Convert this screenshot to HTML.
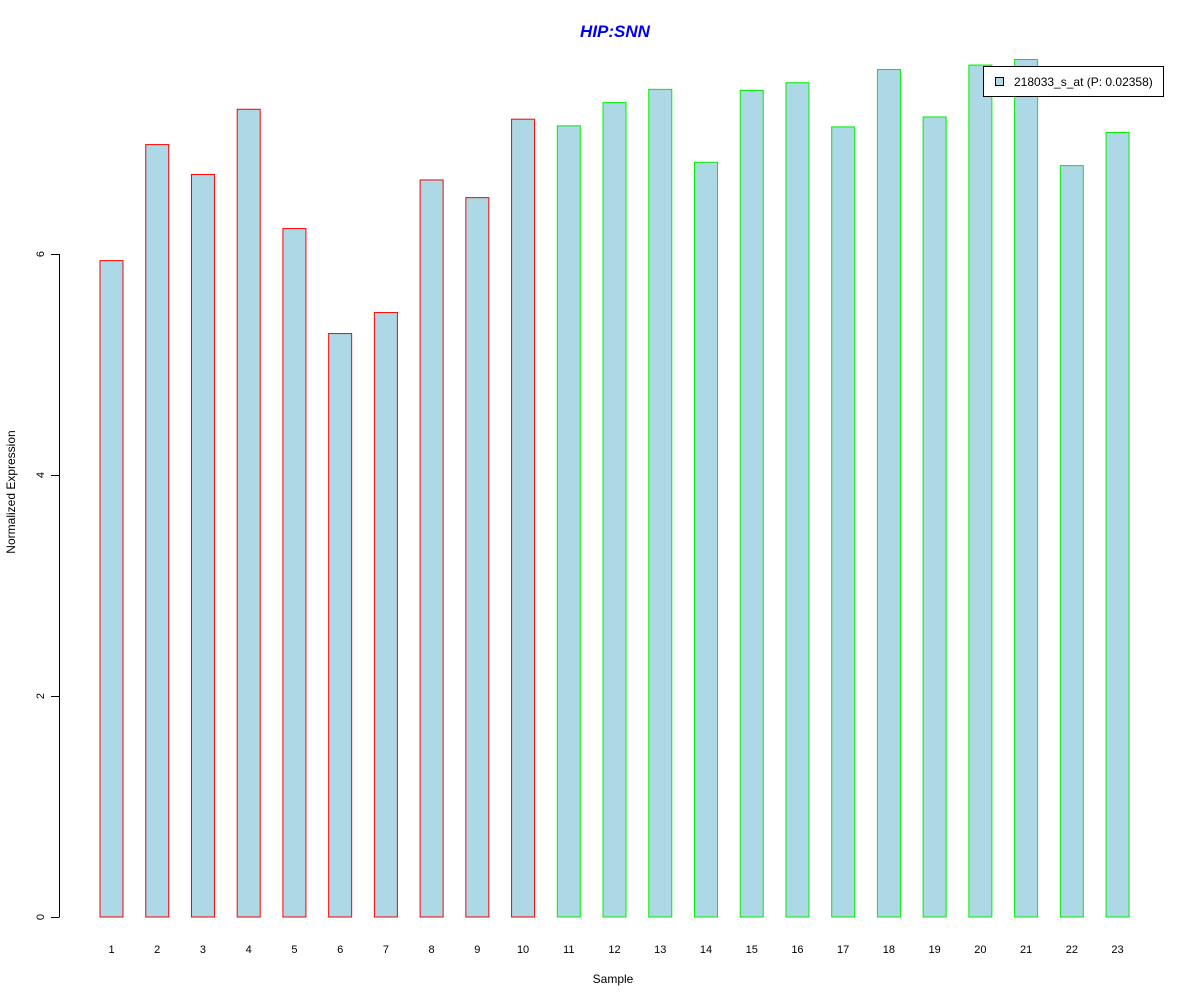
<!DOCTYPE html>
<html><head><meta charset="utf-8"><style>body{margin:0;background:#fff}svg{display:block;font-family:"Liberation Sans",Arial,sans-serif}</style></head>
<body>
<svg id="c" width="1200" height="1000">
<text x="615" y="37" text-anchor="middle" font-size="17" font-weight="bold" font-style="italic" fill="#0000ee">HIP:SNN</text>
<text x="613" y="983" text-anchor="middle" font-size="12">Sample</text>
<text transform="translate(15,492) rotate(-90)" text-anchor="middle" font-size="12">Normalized Expression</text>
<g id="bars"></g><g id="yaxis"></g><g id="xlabels"></g>
<g>
<rect x="983.5" y="66.5" width="180" height="30" fill="#fff" stroke="#000"/>
<rect x="995.5" y="77.5" width="8" height="8" fill="#add8e6" stroke="#000"/>
<text x="1014" y="86" font-size="12">218033_s_at (P: 0.02358)</text>
</g>
</svg>
<script>
const categories=["1","2","3","4","5","6","7","8","9","10","11","12","13","14","15","16","17","18","19","20","21","22","23"];
const values=[5.94,6.99,6.72,7.31,6.23,5.28,5.47,6.67,6.51,7.22,7.16,7.37,7.49,6.83,7.48,7.55,7.15,7.67,7.24,7.71,7.76,6.80,7.10];
const groups=["a","a","a","a","a","a","a","a","a","a","b","b","b","b","b","b","b","b","b","b","b","b","b"];
const yTicks=[0,2,4,6];
const NS="http://www.w3.org/2000/svg";
const y=v=>917-v*110.5;
const xc=i=>111.5+i*45.73;
const bw=23;
const bars=document.getElementById('bars');
values.forEach((v,i)=>{
 const r=document.createElementNS(NS,'rect');
 
 
 r.setAttribute('x',xc(i)-bw/2);r.setAttribute('y',y(v));
 r.setAttribute('width',bw);r.setAttribute('height',y(0)-y(v));
 r.setAttribute('fill','#add8e6');r.setAttribute('stroke',groups[i]==="a"?'#ff0000':'#00ee00');
 bars.appendChild(r);
 const t=document.createElementNS(NS,'text');
 
 
 t.setAttribute('x',xc(i));t.setAttribute('y',953);t.setAttribute('text-anchor','middle');t.setAttribute('font-size','11');
 t.textContent=categories[i];
 document.getElementById('xlabels').appendChild(t);
});
const ya=document.getElementById('yaxis');
const ax=document.createElementNS(NS,'line');


ax.setAttribute('x1',59.5);ax.setAttribute('x2',59.5);ax.setAttribute('y1',y(yTicks[0]));ax.setAttribute('y2',y(yTicks[yTicks.length-1]));ax.setAttribute('stroke','#000');
ya.appendChild(ax);
yTicks.forEach(v=>{
 const l=document.createElementNS(NS,'line');
 
 
 l.setAttribute('x1',51);l.setAttribute('x2',59.5);l.setAttribute('y1',y(v)+.5);l.setAttribute('y2',y(v)+.5);l.setAttribute('stroke','#000');
 ya.appendChild(l);
 const t=document.createElementNS(NS,'text');
 
 
 t.setAttribute('transform','translate(44,'+y(v)+') rotate(-90)');t.setAttribute('text-anchor','middle');t.setAttribute('font-size','11');
 t.textContent=v;
 ya.appendChild(t);
});
</script>
</body></html>
